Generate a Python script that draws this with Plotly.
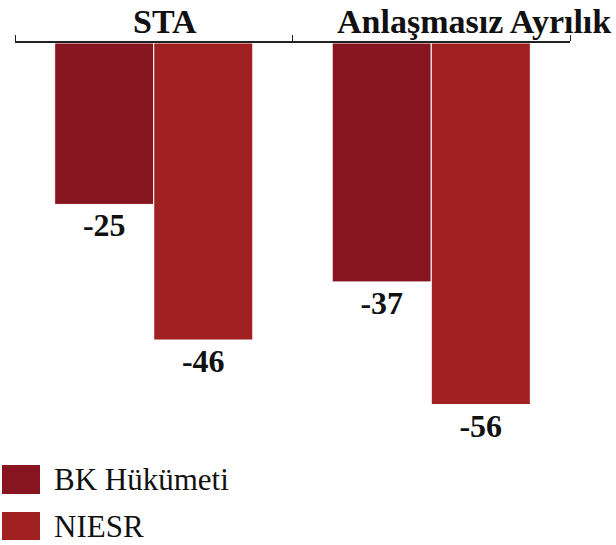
import plotly.graph_objects as go

# data
categories = ['STA', 'Anlaşmasız Ayrılık']
series_names = ['BK Hükümeti', 'NIESR']
bk_values = [-25, -37]
niesr_values = [-46, -56]

colors = ['#861520', '#A12022']
font_family = 'Liberation Serif'

W, H = 616, 545
M_L, M_R, M_T, M_B = 15, 46, 43, 50


def px_to_paper(px_x, px_y):
    # convert window pixels to paper coords (used for the hand-drawn legend)
    x = (px_x - M_L) / (W - M_L - M_R)
    y = (H - M_B - px_y) / (H - M_T - M_B)
    return x, y


fig = go.Figure()

for name, vals, col in zip(series_names, [bk_values, niesr_values], colors):
    fig.add_trace(go.Bar(
        x=categories,
        y=vals,
        name=name,
        marker=dict(color=col, line=dict(color='white', width=1)),
        text=[str(v) for v in vals],
        textposition='outside',
        textfont=dict(family=font_family, size=32, color='#111', weight=700),
        cliponaxis=False,
        showlegend=False,
    ))

fig.update_layout(
    width=W, height=H,
    margin=dict(l=M_L, r=M_R, t=M_T, b=M_B, autoexpand=False),
    barmode='group',
    bargap=0.286,
    bargroupgap=0,
    plot_bgcolor='white',
    paper_bgcolor='white',
    font=dict(family=font_family, color='#111'),
)

fig.update_xaxes(
    side='top',
    range=[-0.5, 1.5],
    showline=True, linecolor='#222', linewidth=1.5,
    ticks='outside', ticklen=6, tickcolor='#222', tickwidth=1.2,
    tickson='boundaries',
    showticklabels=False,
    showgrid=False,
)
fig.update_yaxes(
    range=[-70, 0],
    visible=False,
    showgrid=False, zeroline=False,
)

# category headers above the axis
label_shift = [11, 43]
for cat, shift in zip(categories, label_shift):
    fig.add_annotation(
        x=cat, xref='x', y=1, yref='paper',
        text='<b>%s</b>' % cat, showarrow=False,
        xshift=shift, yshift=22, yanchor='middle',
        font=dict(family=font_family, size=34, color='#111'),
    )

# legend drawn by hand: large swatches like the original
legend_rows = [(465, 494), (512, 540)]
for (top, bottom), name, col in zip(legend_rows, series_names, colors):
    x0, y0 = px_to_paper(2, bottom)
    x1, y1 = px_to_paper(40, top)
    fig.add_shape(type='rect', xref='paper', yref='paper',
                  x0=x0, y0=y0, x1=x1, y1=y1,
                  fillcolor=col, line=dict(width=0))
    tx, ty = px_to_paper(52, (top + bottom) / 2)
    fig.add_annotation(
        x=tx, y=ty, xref='paper', yref='paper',
        text=name, showarrow=False,
        xanchor='left', yanchor='middle',
        font=dict(family=font_family, size=31, color='#111'),
    )

fig.write_html('out.html', config={'displayModeBar': False},
               post_script="document.body.style.margin='0';")
